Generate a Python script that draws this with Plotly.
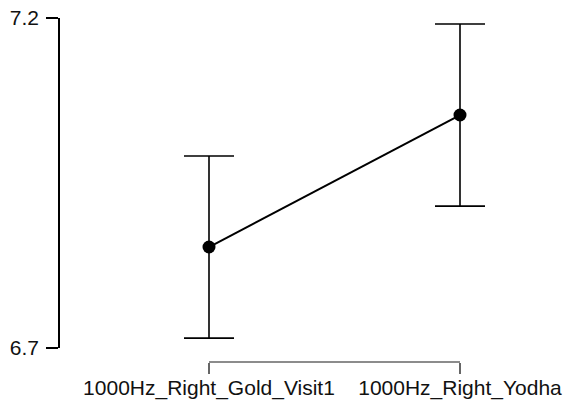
import plotly.graph_objects as go

categories = ["1000Hz_Right_Gold_Visit1", "1000Hz_Right_Yodha"]
means = [6.853, 7.053]
ci_half = [0.138, 0.138]
y_ticks = [6.7, 7.2]

W, H = 566, 410
top, plot_bottom, axis_y = 18, 348, 362
left, right_edge = 60, 556
x0_px = 209
step = 251.0

fig = go.Figure()
fig.add_trace(go.Scatter(
    x=categories, y=means, mode="lines+markers",
    line=dict(color="black", width=2),
    marker=dict(color="black", size=13),
    error_y=dict(type="data", array=ci_half, color="black", thickness=1.6, width=25),
    showlegend=False, cliponaxis=False, hoverinfo="skip",
))

plot_h = axis_y - top
yd0 = (axis_y - plot_bottom) / plot_h

fig.update_layout(
    width=W, height=H,
    margin=dict(l=left, r=W - right_edge, t=top, b=H - axis_y, autoexpand=False),
    plot_bgcolor="white", paper_bgcolor="white",
    font=dict(family="Liberation Sans, Arial, sans-serif", size=21, color="#111"),
    xaxis=dict(
        type="category",
        range=[-(x0_px - left) / step, (right_edge - x0_px) / step],
        automargin=False, ticklabeloverflow="allow",
        showline=False, showgrid=False, zeroline=False,
        ticks="outside", ticklen=11, tickwidth=1.6, tickcolor="#666",
        anchor="free", position=0, ticklabelstandoff=-4,
    ),
    yaxis=dict(
        domain=[yd0, 1], range=[6.7, 7.2], automargin=False,
        ticklabeloverflow="allow",
        tickvals=y_ticks, ticktext=[f"{v:.1f}" for v in y_ticks],
        showline=True, linecolor="black", linewidth=1.6,
        ticks="outside", ticklen=12, tickwidth=1.6, tickcolor="black",
        showgrid=False, zeroline=False, ticklabelstandoff=3,
    ),
)
fig.add_shape(type="line", xref="x", yref="paper", x0=0, x1=1, y0=0, y1=0,
              line=dict(color="#666", width=1.6))
fig.write_html("out.html", config={"displayModeBar": False},
               post_script="document.body.style.margin='0';")
